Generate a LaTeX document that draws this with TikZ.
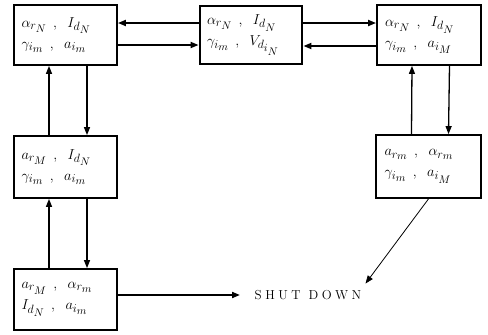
\documentclass[tikz,border=0pt]{standalone}
\usepackage{fontspec}
\usetikzlibrary{arrows.meta}
\DeclareMathSizes{15}{15}{12.5}{11}
\tikzset{
  stbox/.style={draw, line width=1.8pt, minimum width=103pt, minimum height=60pt,
    align=left, text width=88pt, inner sep=0pt, font=\fontsize{15}{19}\selectfont},
  thickbox/.style={stbox, line width=2.8pt},
  harr/.style={line width=1.8pt, -{Triangle[length=8pt,width=6pt]}},
  varr/.style={line width=1.3pt, -{Triangle[length=8pt,width=6pt]}},
  darr/.style={line width=0.8pt, -{Triangle[length=8pt,width=6pt]}},
}
\newcommand\cs{\;\,,\;\;}
\newcommand\ls{\kern3.5pt}
\begin{document}
\begin{tikzpicture}[x=1pt,y=-1pt]
\useasboundingbox (0,0) rectangle (488,335);
\node[stbox] (b1) at (65.5,35) {$\alpha_{r_N}\cs I_{d_N}$\\[2pt]$\gamma_{i_m}\cs a_{i_m}$};
\node[thickbox, minimum width=102pt, minimum height=58pt] (b2) at (251,35) {$\alpha_{r_N}\cs I_{d_N}$\\[2pt]$\gamma_{i_m}\cs V_{d_{i_N}}$};
\node[stbox, minimum width=104pt] (b3) at (429,35) {$\alpha_{r_N}\cs I_{d_N}$\\[2pt]$\gamma_{i_m}\cs a_{i_M}$};
\node[stbox, minimum height=62pt] (b4) at (65.5,167) {$a_{r_M}\cs I_{d_N}$\\[2pt]$\gamma_{i_m}\cs a_{i_m}$};
\node[stbox, minimum width=105pt, minimum height=63pt] (b5) at (428.5,166.5) {$a_{r_m}\cs \alpha_{r_m}$\\[2pt]$\gamma_{i_m}\cs a_{i_M}$};
\node[stbox, minimum height=61pt] (b6) at (65.5,299.5) {$a_{r_M}\cs \alpha_{r_m}$\\[2pt]$I_{d_N}\cs a_{i_m}$};
\node[font=\fontsize{13}{15}\selectfont, inner sep=2pt] (sd) at (308,295.5) {S\ls H\ls U\ls T\kern8pt D\ls O\ls W\ls N};
\coordinate (sdin) at (240,295);
% horizontal
\draw[harr] ([yshift=12pt]b2.west) -- ([yshift=12pt]b1.east);
\draw[harr] ([yshift=-10pt]b1.east) -- ([yshift=-10pt]b2.west);
\draw[harr] ([yshift=12pt]b2.east) -- ([yshift=12pt]b3.west);
\draw[harr] ([yshift=-11pt]b3.west) -- ([yshift=-11pt]b2.east);
% vertical
\draw[varr] ([xshift=-16.5pt]b4.north) -- ([xshift=-16.5pt]b1.south);
\draw[varr] ([xshift=21.5pt]b1.south) -- ([xshift=21.5pt]b4.north);
\draw[varr] ([xshift=-16.5pt]b6.north) -- ([xshift=-16.5pt]b4.south);
\draw[varr] ([xshift=21.5pt]b4.south) -- ([xshift=21.5pt]b6.north);
\draw[varr] ([xshift=-17pt]b5.north) -- ([xshift=-17pt]b3.south);
\draw[varr] ([xshift=20.5pt]b3.south) -- ([xshift=20pt]b5.north);
% to shut down
\draw[harr] (b6.east |- sdin) -- (sdin);
\draw[darr] (b5.south) -- ([xshift=2pt,yshift=5pt]sd.north east);
\end{tikzpicture}
\end{document}
